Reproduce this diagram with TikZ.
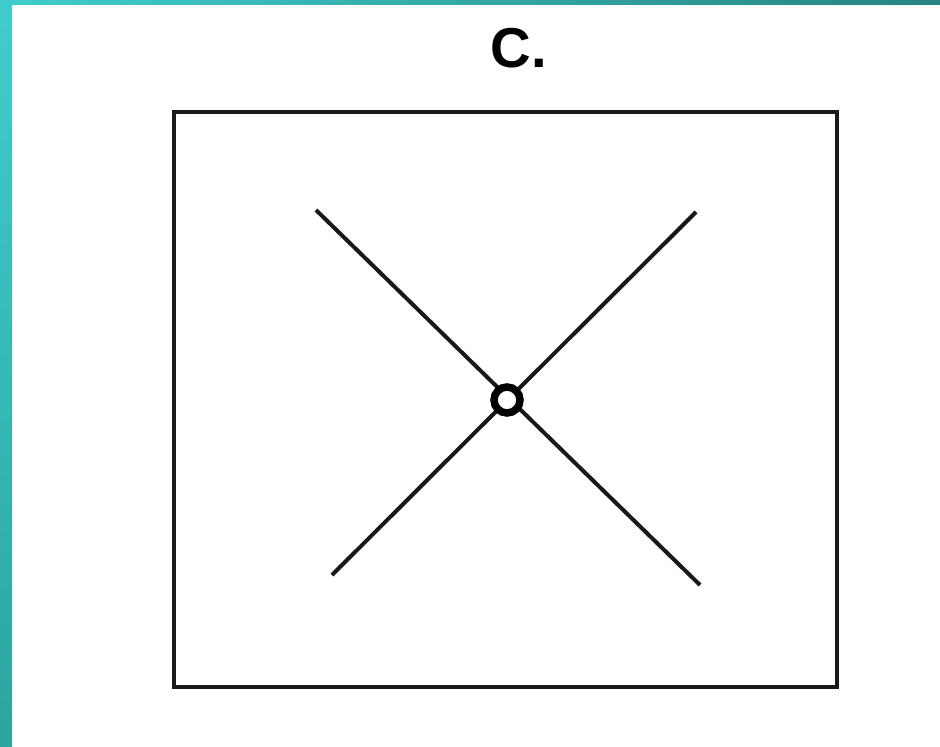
\documentclass[tikz,border=0pt]{standalone}
\usepackage{fontspec}
\setmainfont{Liberation Sans}
\usetikzlibrary{positioning}
\definecolor{TealLight}{RGB}{64,205,205}
\definecolor{TealMid}{RGB}{44,165,160}
\definecolor{TealDark}{RGB}{38,132,130}
\definecolor{InkGrey}{RGB}{25,25,25}
\tikzset{
  framebox/.style={draw=InkGrey,line width=0.08cm,minimum width=13.26cm,
    minimum height=11.5cm,inner sep=0pt},
  crossline/.style={draw=InkGrey,line width=0.08cm},
  hub/.style={circle,draw=black,fill=white,line width=0.15cm,
    minimum size=0.52cm,inner sep=0pt},
  caption/.style={font=\fontsize{32}{32}\selectfont\bfseries,inner sep=0pt}
}
\begin{document}
\begin{tikzpicture}[x=0.02cm,y=-0.02cm]
  \useasboundingbox (0,0) rectangle (940,747);
  \fill[white] (0,0) rectangle (940,747);
  % teal edges
  \shade[top color=TealLight,bottom color=TealMid] (0,0) rectangle (12,747);
  \shade[left color=TealLight,right color=TealDark] (0,0) rectangle (940,4);
  % frame and title
  \node[framebox] (frame) at (505.5,399.5) {};
  \node[caption] (title) at (519,48) {C.};
  % cross
  \coordinate (ul) at (316,210);
  \coordinate (lr) at (700,585);
  \coordinate (ur) at (696,212);
  \coordinate (ll) at (332,575);
  \draw[crossline] (ul) -- (lr);
  \draw[crossline] (ur) -- (ll);
  \node[hub] (centre) at (507,400) {};
\end{tikzpicture}
\end{document}
